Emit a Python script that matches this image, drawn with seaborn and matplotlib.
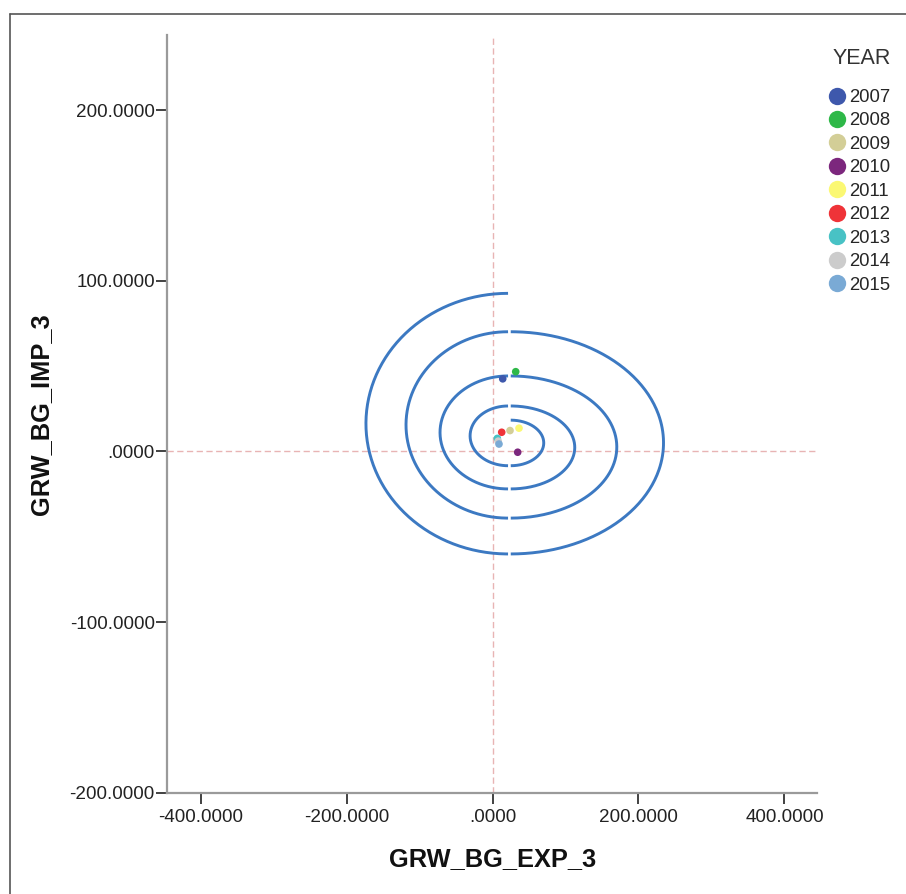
import numpy as np
import pandas as pd
import matplotlib
matplotlib.use("Agg")
import matplotlib.pyplot as plt
import seaborn as sns

# Scatter points, one per year
years = ["2007", "2008", "2009", "2010", "2011", "2012", "2013", "2014", "2015"]
exp_growth = [14.0, 31.8, 24.0, 34.5, 36.3, 12.6, 6.6, 7.8, 8.9]
imp_growth = [42.5, 46.7, 12.2, -0.5, 13.6, 11.2, 7.6, 6.0, 4.3]
year_colors = ["#3e58ac", "#2eb848", "#d3ce97", "#7c277d", "#fbf873",
               "#ef3338", "#48c2c5", "#cccccc", "#7aaad5"]

# Spiral made of half ellipses: y levels where arcs join, and arc widths
join_levels = [92.6, -60.1, 70.1, -39.1, 44.2, -22.0, 26.6, -8.4, 18.3]
arc_widths = [194.7, 209.3, 139.8, 145.3, 93.2, 87.7, 52.0, 45.2]
left_center_x = 21.3
right_center_x = 25.0

x_ticks = [-400, -200, 0, 200, 400]
y_ticks = [-200, -100, 0, 100, 200]


def fmt(v):
    # SPSS style labels: .0000 for zero
    s = "%.4f" % v
    if v == 0:
        s = ".0000"
    return s


def main():
    sns.set_style("white")
    plt.rcParams["font.family"] = ["Liberation Sans", "DejaVu Sans"]

    df = pd.DataFrame({"EXP": exp_growth, "IMP": imp_growth, "YEAR": years})

    fig = plt.figure(figsize=(9.06, 8.94), dpi=100)
    ax = fig.add_axes([0.1847, 0.1133, 0.7174, 0.8476])

    # outer frame (only top and left edge show)
    fig.add_artist(plt.Line2D([9.5 / 906, 1.0], [1 - 13.5 / 894] * 2,
                              transform=fig.transFigure, color="#555555", lw=1.2))
    fig.add_artist(plt.Line2D([9.5 / 906] * 2, [0.0, 1 - 13.5 / 894],
                              transform=fig.transFigure, color="#555555", lw=1.2))

    # reference lines at zero
    ax.axvline(0, color="#e8b4b4", lw=1, ls=(0, (4.5, 2.5)), zorder=1)
    ax.axhline(0, color="#e8b4b4", lw=1, ls=(0, (4.5, 2.5)), zorder=1)

    # spiral
    for i in range(len(arc_widths)):
        y0 = join_levels[i]
        y1 = join_levels[i + 1]
        cy = (y0 + y1) / 2
        ry = abs(y0 - y1) / 2
        if i % 2 == 0:
            # left half, from top going round to bottom
            t = np.linspace(np.pi / 2, 3 * np.pi / 2, 200)
            cx = left_center_x
        else:
            # right half, from bottom going round to top
            t = np.linspace(-np.pi / 2, np.pi / 2, 200)
            cx = right_center_x
        ax.plot(cx + arc_widths[i] * np.cos(t), cy + ry * np.sin(t),
                color="#3c79c2", lw=2.1, solid_capstyle="butt", zorder=2)

    sns.scatterplot(data=df, x="EXP", y="IMP", hue="YEAR", hue_order=years,
                    palette=year_colors, s=30, linewidth=0, ax=ax, zorder=3)

    ax.set_xlim(-445.5, 445)
    ax.set_ylim(-200, 244)
    ax.set_xticks(x_ticks)
    ax.set_xticklabels([fmt(v) for v in x_ticks])
    ax.set_yticks(y_ticks)
    ax.set_yticklabels([fmt(v) for v in y_ticks])

    for side in ["top", "right"]:
        ax.spines[side].set_visible(False)
    for side in ["left", "bottom"]:
        ax.spines[side].set_color("#9a9a9a")
        ax.spines[side].set_linewidth(1.6)

    ax.tick_params(axis="both", which="major", length=8, width=1.3,
                   color="#333333", labelsize=13.6, labelcolor="#222222",
                   direction="out", left=True, bottom=True)
    ax.tick_params(axis="y", pad=1)
    ax.tick_params(axis="x", pad=4)

    ax.set_xlabel("GRW_BG_EXP_3", fontsize=18.3, fontweight="bold",
                  color="#111111", labelpad=15)
    ax.set_ylabel("GRW_BG_IMP_3", fontsize=18.3, fontweight="bold",
                  color="#111111", labelpad=12)

    # legend on the right, title drawn as its own text
    handles, labels = ax.get_legend_handles_labels()
    for h in handles:
        if hasattr(h, "set_markersize"):
            h.set_markersize(12.5)
        else:
            h.set_sizes([156])
    ax.legend(handles, labels, loc="upper left",
              bbox_to_anchor=(825 / 906, 1 - 89 / 894),
              bbox_transform=fig.transFigure, frameon=False,
              fontsize=13.3, handletextpad=0.0,
              handlelength=1.3, labelspacing=0.35, borderpad=0,
              borderaxespad=0)
    fig.text(833 / 906, 1 - 58 / 894, "YEAR", fontsize=15.5, color="#333333",
             ha="left", va="center")

    fig.savefig("out.png", dpi=100)


if __name__ == "__main__":
    main()
